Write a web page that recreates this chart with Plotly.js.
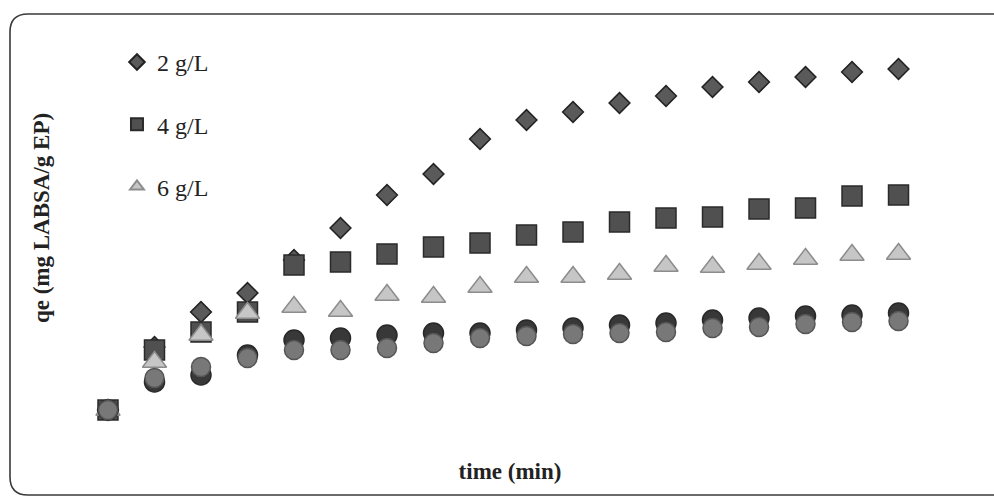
<!DOCTYPE html>
<html>
<head>
<meta charset="utf-8">
<script src="https://cdn.plot.ly/plotly-3.0.1.min.js"></script>
<style>
  html, body { margin: 0; padding: 0; background: #fff; overflow: hidden; }
  #chart { width: 994px; height: 500px; }
</style>
</head>
<body>
<div id="chart"></div>
<script>
// Contact time (min)
const time = [0, 5, 10, 15, 20, 25, 30, 35, 40, 45, 50, 55, 60, 65, 70, 75, 80, 85, 90];

// Adsorption capacity qe (mg LABSA / g EP) for each adsorbent dose
const qe2 = [0, 6.3, 9.8, 11.7, 15.0, 18.2, 21.5, 23.6, 27.1, 29.0, 29.8, 30.7, 31.4, 32.3, 32.8, 33.3, 33.8, 34.1, 34.3];
const qe4 = [0, 6.0, 7.8, 9.8, 14.5, 14.8, 15.6, 16.3, 16.7, 17.5, 17.8, 18.8, 19.2, 19.3, 20.1, 20.2, 21.4, 21.5, 22.0];
const qe6 = [0, 4.8, 7.5, 9.7, 10.3, 9.9, 11.5, 11.3, 12.3, 13.3, 13.3, 13.6, 14.4, 14.3, 14.6, 15.1, 15.5, 15.6, 15.8];
const qe8 = [0, 2.8, 3.5, 5.5, 7.0, 7.2, 7.5, 7.7, 7.7, 8.0, 8.2, 8.5, 8.7, 9.0, 9.2, 9.4, 9.5, 9.7, 9.9];
const qe10 = [0, 3.2, 4.3, 5.2, 6.0, 6.0, 6.2, 6.7, 7.2, 7.4, 7.6, 7.7, 7.8, 8.2, 8.3, 8.6, 8.8, 8.9, 9.1];

const seriesNames = ['2 g/L', '4 g/L', '6 g/L', '8 g/L', '10 g/L'];

function pts(y, name, group, symbol, size, fill, edge, showlegend) {
  return {
    type: 'scatter', mode: 'markers', x: time, y: y, name: name,
    legendgroup: group, showlegend: showlegend, cliponaxis: false,
    marker: { symbol: symbol, size: size, color: fill, line: { color: edge, width: 1.5 } }
  };
}

const data = [
  pts(qe2, seriesNames[0], 'a', 'diamond', 16, '#5a5a5a', '#222222', true),
  pts(qe4, seriesNames[1], 'b', 'square', 20, '#505050', '#2a2a2a', true),
  pts(qe6, seriesNames[2], 'c', 'triangle-up', 21, '#c6c6c6', '#8c8c8c', true),
  pts(qe8, seriesNames[3], 'd', 'circle', 20, '#383838', '#282828', false),
  pts(qe10, seriesNames[4], 'e', 'circle', 19, '#787878', '#555555', false)
];

const serif = 'Liberation Serif, Times New Roman, serif';

// Chart frame: rounded on the left, running off the right edge of the page.
// Drawn in paper units (plot area spans x 80..940 px, y 6..430 px).
const W = 860, H = 424, L = 80, T = 6;
const px = v => ((v - L) / W).toFixed(4);
const py = v => (1 - (v - T) / H).toFixed(4);
const rad = 18;
const fx0 = 10, fy0 = 14, fy1 = 495, fx1 = 1010;
const framePath =
  'M ' + px(fx1) + ',' + py(fy0) +
  ' L ' + px(fx0 + rad) + ',' + py(fy0) +
  ' Q ' + px(fx0) + ',' + py(fy0) + ' ' + px(fx0) + ',' + py(fy0 + rad) +
  ' L ' + px(fx0) + ',' + py(fy1 - rad) +
  ' Q ' + px(fx0) + ',' + py(fy1) + ' ' + px(fx0 + rad) + ',' + py(fy1) +
  ' L ' + px(fx1) + ',' + py(fy1);

const layout = {
  width: 994, height: 500,
  paper_bgcolor: '#ffffff', plot_bgcolor: '#ffffff',
  margin: { l: L, r: 994 - L - W, t: T, b: 500 - T - H },
  showlegend: true,
  legend: {
    x: 0.043, y: 0.92, xanchor: 'left', yanchor: 'top',
    font: { family: serif, size: 24, color: '#222' },
    bgcolor: 'rgba(0,0,0,0)', borderwidth: 0,
    tracegroupgap: 28, itemsizing: 'constant', traceorder: 'grouped'
  },
  shapes: [{
    type: 'path', xref: 'paper', yref: 'paper', path: framePath,
    line: { color: '#3a3a3a', width: 1.6 }, fillcolor: 'rgba(0,0,0,0)', layer: 'above'
  }],
  xaxis: {
    range: [-3.01, 89.46],
    showgrid: false, zeroline: false, showline: false,
    showticklabels: false, ticks: '',
    title: { text: 'time (min)', standoff: 32, font: { family: serif, size: 23, color: '#222', weight: 'bold' } }
  },
  yaxis: {
    range: [-2, 40.4],
    showgrid: false, zeroline: false, showline: false,
    showticklabels: false, ticks: '',
    title: { text: 'qe (mg LABSA/g EP)', standoff: 22, font: { family: serif, size: 23, color: '#222', weight: 'bold' } }
  }
};

Plotly.newPlot('chart', data, layout, { staticPlot: true, displayModeBar: false });
</script>
</body>
</html>
